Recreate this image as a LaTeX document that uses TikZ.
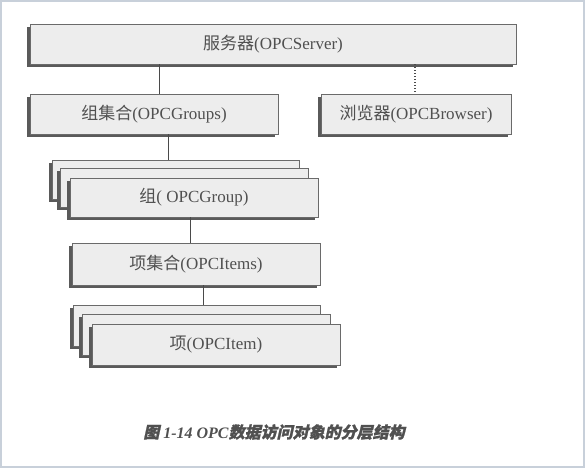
\documentclass[tikz,border=0pt]{standalone}
\usepackage{fontspec}
\setmainfont{Liberation Serif}
\newfontfamily\cjk{Noto Sans CJK SC}
\newfontfamily\cjkcap[FakeSlant=0.22,FakeBold=1.2]{Noto Sans CJK SC}
\usetikzlibrary{shadows}
\definecolor{boxfill}{HTML}{EDEDED}
\definecolor{boxline}{HTML}{6A6A6A}
\definecolor{boxshadow}{HTML}{5A5A5A}
\definecolor{boxtext}{HTML}{505050}
\definecolor{linkc}{HTML}{4A4A4A}
\definecolor{framec}{HTML}{C8D0DA}

\begin{document}
\begin{tikzpicture}[x=1pt,y=-1pt,
    layer/.style={draw=boxline, fill=boxfill, line width=0.8pt, minimum width=248pt,
        minimum height=40pt, inner sep=0pt, text=boxtext, font=\fontsize{17}{19}\selectfont,
        drop shadow={shadow xshift=-3pt, shadow yshift=-3pt, fill=boxshadow, opacity=1}},
    link/.style={draw=linkc, line width=1pt}]
    \useasboundingbox (0,0) rectangle (585,468);
    \draw[framec, line width=2pt] (1,1) rectangle (584,467);

    % 定义连线的横坐标
    \coordinate (L1) at (159,0);
    \coordinate (L2) at (168,0);
    \coordinate (L3) at (190,0);
    \coordinate (L4) at (203,0);
    \coordinate (L5) at (415,0);

    % 服务器层
    \node[layer, minimum width=486pt] (server) at (273,44) {{\cjk 服务器}(OPCServer)};
    \node[layer] (groups) at (154,114) {{\cjk 组集合}(OPCGroups)};
    \node[layer, minimum width=190pt] (browser) at (416,114) {{\cjk 浏览器}(OPCBrowser)};

    % 组（多个叠放）
    \node[layer, minimum width=247pt, minimum height=39pt] (groupC) at (175.5,179.5) {};
    \node[layer, minimum height=39pt] (groupB) at (184,187.5) {};
    \node[layer, minimum height=39pt] (groupA) at (194,197.5) {{\cjk 组}( OPCGroup)};

    % 项集合
    \node[layer, minimum height=42pt] (items) at (196,264) {{\cjk 项集合}(OPCItems)};

    % 项（多个叠放）
    \node[layer, minimum width=247pt, minimum height=41pt] (itemC) at (196.5,325.5) {};
    \node[layer, minimum height=41pt] (itemB) at (206,334.5) {};
    \node[layer, minimum height=41pt] (itemA) at (216,344.5) {{\cjk 项}(OPCItem)};

    % 连线
    \draw[link] (server.south -| L1) -- (groups.north -| L1);
    \draw[link, dotted, line width=1.5pt] (server.south -| L5) -- (browser.north -| L5);
    \draw[link] (groups.south -| L2) -- (groupC.north -| L2);
    \draw[link] (groupA.south -| L3) -- (items.north -| L3);
    \draw[link] (items.south -| L4) -- (itemC.north -| L4);

    % 图题
    \node[text=boxtext, font=\fontsize{16}{18}\selectfont\bfseries\itshape] (caption) at (274,432)
        {{\cjkcap 图} 1-14 OPC{\cjkcap 数据访问对象的分层结构}};
\end{tikzpicture}
\end{document}
